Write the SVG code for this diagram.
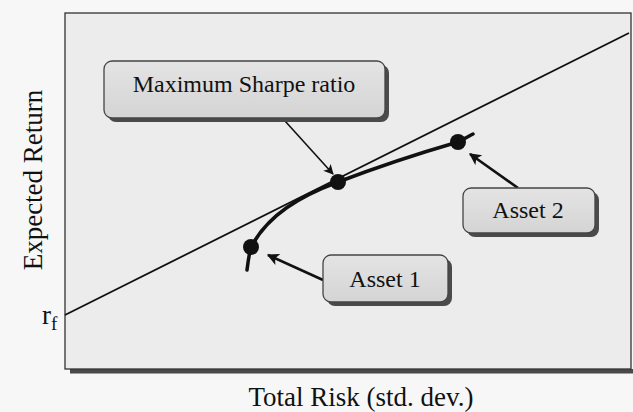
<svg xmlns="http://www.w3.org/2000/svg" width="633" height="412" viewBox="0 0 633 412">
  <defs>
    <marker id="arrow" viewBox="0 0 10 10" refX="9" refY="5" markerWidth="10" markerHeight="10" markerUnits="userSpaceOnUse" orient="auto">
      <path d="M0,0 L10,5 L0,10 L2.5,5 Z" fill="#111"/>
    </marker>
    <marker id="arrowBig" viewBox="0 0 10 10" refX="9" refY="5" markerWidth="13" markerHeight="12" markerUnits="userSpaceOnUse" orient="auto">
      <path d="M0,0 L10,5 L0,10 L2.5,5 Z" fill="#111"/>
    </marker>
    <linearGradient id="boxFill" x1="0" y1="0" x2="0" y2="1">
      <stop offset="0" stop-color="#e4e4e4"/>
      <stop offset="1" stop-color="#d4d4d4"/>
    </linearGradient>
  </defs>
  <style>
    text { font-family: "Liberation Serif", "Times New Roman", serif; fill: #111; }
    .axis { font-size: 27px; }
    .label { font-size: 24px; text-anchor: middle; }
    .box { fill: url(#boxFill); stroke: #444; stroke-width: 1.3; }
    .shadow { fill: #4a4a4a; }
    .curve { fill: none; stroke: #111; stroke-width: 3.5; stroke-linecap: round; }
    .cml { fill: none; stroke: #111; stroke-width: 1.8; }
    .pointer { fill: none; stroke: #111; stroke-width: 1.6; }
    .pointerBold { fill: none; stroke: #111; stroke-width: 2.6; }
    .dot { fill: #111; }
  </style>

  <rect x="0" y="0" width="633" height="412" fill="#f7f7f7"/>

  <!-- plot frame with drop shadow -->
  <g id="frame">
    <rect x="70" y="369" width="563" height="4.5" class="shadow"/>
    <rect x="65" y="13" width="566" height="356" fill="#ececec" stroke="#333" stroke-width="1.3"/>
  </g>

  <!-- axis labels -->
  <g id="axes">
    <text class="axis" transform="translate(42,180) rotate(-90)" text-anchor="middle" font-size="28">Expected Return</text>
    <text class="axis" x="361" y="406" text-anchor="middle">Total Risk (std. dev.)</text>
    <text class="axis" x="42" y="324">r<tspan font-size="19" dy="6">f</tspan></text>
  </g>

  <!-- capital market line and efficient frontier -->
  <g id="connectors">
    <line class="cml" x1="65" y1="315" x2="629" y2="33"/>
    <path class="curve" d="M247,270 C248,262 249,254 251,247 C268,215 300,196 338,182 C380,166 420,153 458,142 C464,139 469,136 473,134"/>
    <line class="pointer" x1="285" y1="121" x2="333" y2="174" marker-end="url(#arrow)"/>
    <line class="pointerBold" x1="518" y1="188" x2="470" y2="154" marker-end="url(#arrowBig)"/>
    <line class="pointerBold" x1="323" y1="280" x2="268" y2="255" marker-end="url(#arrowBig)"/>
  </g>

  <!-- portfolio points -->
  <g id="point-max-sharpe"><circle class="dot" cx="338" cy="182" r="8"/></g>
  <g id="point-asset-2"><circle class="dot" cx="458" cy="142" r="8"/></g>
  <g id="point-asset-1"><circle class="dot" cx="251" cy="247" r="8"/></g>

  <!-- callout boxes -->
  <g id="box-max-sharpe">
    <rect x="108" y="65" width="281" height="57" rx="8" class="shadow"/>
    <rect x="104" y="61" width="281" height="57" rx="8" class="box"/>
    <text class="label" x="244" y="92">Maximum Sharpe ratio</text>
  </g>
  <g id="box-asset-2">
    <rect x="467" y="192" width="132" height="45" rx="8" class="shadow"/>
    <rect x="463" y="188" width="132" height="45" rx="8" class="box"/>
    <text class="label" x="528" y="218">Asset 2</text>
  </g>
  <g id="box-asset-1">
    <rect x="327" y="259" width="125" height="47" rx="8" class="shadow"/>
    <rect x="323" y="255" width="125" height="47" rx="8" class="box"/>
    <text class="label" x="385" y="287">Asset 1</text>
  </g>
</svg>
